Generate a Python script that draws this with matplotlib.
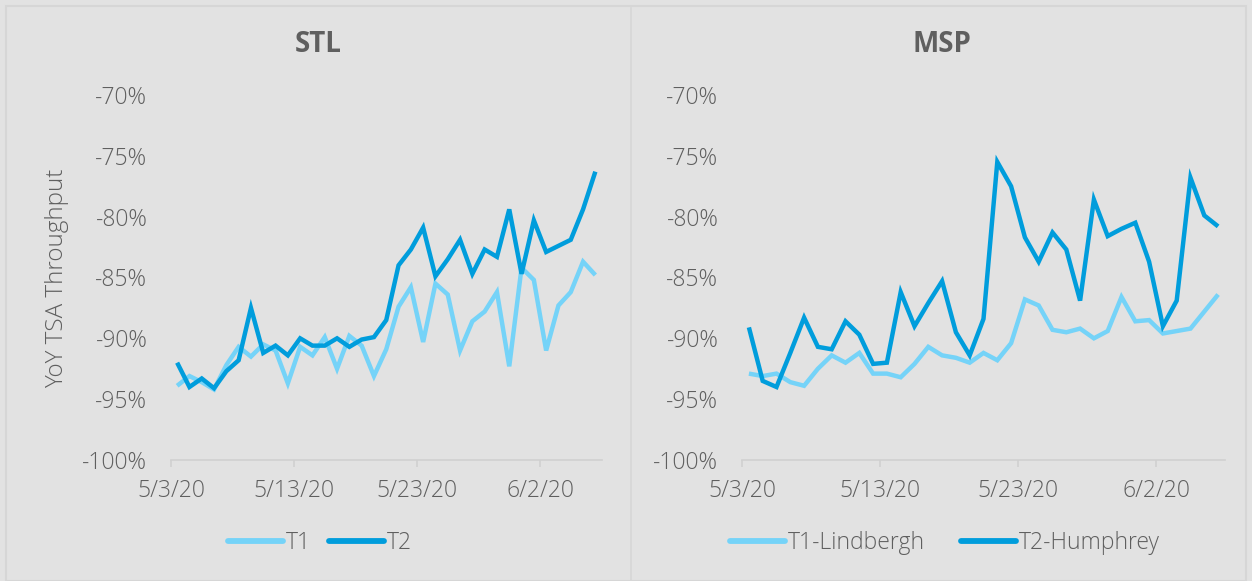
import matplotlib
matplotlib.use("Agg")
import matplotlib.pyplot as plt
import matplotlib.ticker as mticker
from matplotlib.lines import Line2D
import pandas as pd

# --- data (YoY TSA throughput, %) ---
dates = pd.date_range("2020-05-03", periods=35, freq="D")
tick_dates = pd.to_datetime(["2020-05-03", "2020-05-13", "2020-05-23", "2020-06-02"])

stl_t1 = [-93.9, -93.1, -93.6, -94.2, -92.2, -90.7, -91.5, -90.5, -91.0, -93.7,
          -90.7, -91.4, -89.9, -92.5, -89.8, -90.6, -93.1, -90.9, -87.4, -85.8,
          -90.3, -85.5, -86.4, -91.0, -88.6, -87.8, -86.2, -92.3, -84.2, -85.2,
          -91.0, -87.3, -86.2, -83.7, -84.8]
stl_t2 = [-92.0, -94.0, -93.3, -94.1, -92.7, -91.8, -87.5, -91.2, -90.6, -91.4,
          -90.0, -90.6, -90.6, -90.0, -90.7, -90.1, -89.9, -88.5, -84.0, -82.7,
          -80.9, -84.9, -83.5, -81.9, -84.7, -82.7, -83.3, -79.4, -84.7, -80.3,
          -82.9, -82.4, -81.9, -79.4, -76.3]
msp_t1 = [-92.9, -93.1, -92.9, -93.6, -93.9, -92.5, -91.4, -92.0, -91.2, -92.9,
          -92.9, -93.2, -92.1, -90.7, -91.4, -91.6, -92.0, -91.2, -91.8, -90.4,
          -86.8, -87.3, -89.3, -89.5, -89.2, -90.0, -89.4, -86.6, -88.6, -88.5,
          -89.6, -89.4, -89.2, -87.8, -86.4]
msp_t2 = [-89.1, -93.5, -94.0, -91.2, -88.3, -90.7, -90.9, -88.6, -89.7, -92.1,
          -92.0, -86.2, -89.0, -87.1, -85.3, -89.5, -91.4, -88.4, -75.5, -77.5,
          -81.7, -83.7, -81.3, -82.7, -86.9, -78.6, -81.6, -81.0, -80.5, -83.7,
          -89.0, -86.9, -76.8, -79.9, -80.8]

panels = [
    ("STL", stl_t1, stl_t2, ["T1", "T2"]),
    ("MSP", msp_t1, msp_t2, ["T1-Lindbergh", "T2-Humphrey"]),
]

# --- style ---
bg = "#e2e2e2"
light_blue = "#75d3f8"
dark_blue = "#009ddc"
text_col = "#5f5f5f"
axis_col = "#d0d0d0"
plt.rcParams["font.family"] = ["Open Sans", "DejaVu Sans"]
plt.rcParams["font.weight"] = "light"

W, H = 1252, 581
fig = plt.figure(figsize=(W / 100, H / 100), dpi=100, facecolor=bg)

# axes boxes in pixels: (left, right)
boxes = [(171, 601.5), (742, 1225)]
top_px, bot_px = 95, 460
panel_centers = [320, 945]
col_spacing = [0.8, 1.6]

for (title, t1, t2, labels), (l, r), cx, cs in zip(panels, boxes, panel_centers, col_spacing):
    ax = fig.add_axes([l / W, 1 - bot_px / H, (r - l) / W, (bot_px - top_px) / H])
    ax.set_facecolor(bg)
    x = dates + pd.Timedelta(hours=12)
    ax.plot(x, t1, color=light_blue, lw=3.2, solid_joinstyle="miter", solid_capstyle="butt")
    ax.plot(x, t2, color=dark_blue, lw=3.2, solid_joinstyle="miter", solid_capstyle="butt")

    ax.set_xlim(dates[0], dates[-1] + pd.Timedelta(days=1))
    ax.set_ylim(-100, -70)
    ax.yaxis.set_major_locator(mticker.MultipleLocator(5))
    ax.yaxis.set_major_formatter(mticker.FuncFormatter(lambda v, p: f"{v:.0f}%"))
    ax.set_xticks(tick_dates)
    ax.set_xticklabels([f"{d.month}/{d.day}/20" for d in tick_dates])

    for s in ["top", "right", "left"]:
        ax.spines[s].set_visible(False)
    ax.spines["bottom"].set_color(axis_col)
    ax.spines["bottom"].set_linewidth(1.2)
    ax.tick_params(axis="y", length=0, pad=17, labelsize=16.5, labelcolor=text_col)
    ax.tick_params(axis="x", length=5, width=1.2, color=axis_col, pad=9,
                   labelsize=16.5, labelcolor=text_col)

    fig.text((318 if title == "STL" else 942) / W, 1 - 45 / H, title,
             ha="center", va="center", fontsize=20, fontweight="bold", color=text_col)

    handles = [Line2D([], [], color=light_blue, lw=4.2, solid_capstyle="round"),
               Line2D([], [], color=dark_blue, lw=4.2, solid_capstyle="round")]
    fig.legend(handles, labels, loc="center", ncol=2,
               bbox_to_anchor=(cx / W, 1 - 543 / H), frameon=False,
               fontsize=16.5, labelcolor=text_col, handlelength=2.4,
               handletextpad=0.1, columnspacing=cs)

fig.text(57 / W, 1 - 278 / H, "YoY TSA Throughput", rotation=90,
         ha="center", va="center", fontsize=17.5, color=text_col)

# divider between panels and outer border
fig.add_artist(Line2D([631 / W, 631 / W], [0, 1 - 8 / H], color="#d6d6d6", lw=1.2))
fig.add_artist(plt.Rectangle((6 / W, 0), 1 - 12 / W, 1 - 6 / H, fill=False,
                             edgecolor="#d6d6d6", lw=1.5, transform=fig.transFigure))

fig.savefig("out.png", dpi=100, facecolor=bg)
